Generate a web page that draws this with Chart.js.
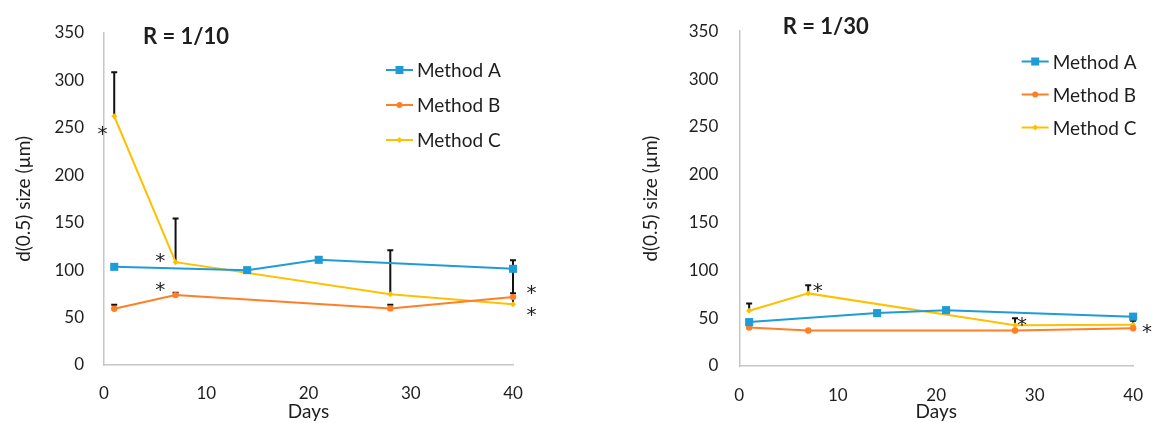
<!DOCTYPE html>
<html lang="en">
<head>
    <meta charset="UTF-8">
    <title>d(0.5) size over time</title>
    <script src="https://cdn.jsdelivr.net/npm/chart.js"></script>
    <style>
        body { margin: 0; background: #fff; }
        .panel { position: absolute; top: 0; width: 581px; height: 423px; }
        #left { left: 0; }
        #right { left: 581px; }
    </style>
</head>
<body>
    <div class="panel" id="left"><canvas id="chart10" width="581" height="423"></canvas></div>
    <div class="panel" id="right"><canvas id="chart30" width="581" height="423"></canvas></div>

    <script>
        // sampling days
        const daysA = [1, 14, 21, 40];
        const daysBC = [1, 7, 28, 40];
        const seriesNames = ['Method A', 'Method B', 'Method C'];

        // R = 1/10
        const methodA10 = [103.4, 99.9, 110.8, 101.3];
        const methodB10 = [59.3, 73.6, 59.6, 71.5];
        const methodC10 = [262, 108.3, 74.6, 64.1];
        const errB10 = [4.1, 2.5, 3.8, 4];
        const errC10 = [46.4, 45.9, 46.3, 46.3];
        const stars10 = [[-0.15, 247.5], [5.5, 113.4], [5.5, 82.5], [41.8, 79.7], [41.8, 56.1]];

        // R = 1/30
        const methodA30 = [45.9, 55.3, 58.4, 51.6];
        const methodB30 = [40.2, 37.1, 37.1, 39.5];
        const methodC30 = [57.7, 75.9, 42.5, 43.2];
        const errC30 = [7.7, 8.4, 7.5, 4];
        const stars30 = [[7.96, 82.1], [28.7, 46.6], [41.4, 39.2]];

        const FONT = "Lato, 'Open Sans', sans-serif";
        const TXT = '#1e1e1e';
        const colors = ['#1f9bd7', '#ff7f27', '#ffc000'];

        const pts = (xs, ys) => xs.map((x, i) => ({ x: x, y: ys[i] }));

        function drawMarker(ctx, style, x, y, r, color) {
            ctx.save();
            ctx.fillStyle = color;
            ctx.beginPath();
            if (style === 'rect') {
                ctx.rect(x - r, y - r, 2 * r, 2 * r);
            } else if (style === 'circle') {
                ctx.arc(x, y, r, 0, Math.PI * 2);
            } else {
                ctx.moveTo(x, y - r); ctx.lineTo(x + r, y); ctx.lineTo(x, y + r); ctx.lineTo(x - r, y);
                ctx.closePath();
            }
            ctx.fill();
            ctx.restore();
        }

        const extras = {
            id: 'extras',
            beforeDatasetsDraw(chart, args, opts) {
                const { ctx, scales: { x, y } } = chart;
                ctx.save();
                ctx.strokeStyle = '#111';
                ctx.lineWidth = 2;
                opts.errors.forEach(e => {
                    chart.data.datasets[e.dataset].data.forEach((p, i) => {
                        const px = x.getPixelForValue(p.x);
                        const y0 = y.getPixelForValue(p.y);
                        const y1 = y.getPixelForValue(p.y + e.values[i]);
                        ctx.beginPath();
                        ctx.moveTo(px, y0); ctx.lineTo(px, y1);
                        ctx.moveTo(px - 3, y1); ctx.lineTo(px + 3, y1);
                        ctx.stroke();
                    });
                });
                ctx.restore();
            },
            afterDraw(chart, args, opts) {
                const { ctx, scales: { x, y } } = chart;
                ctx.save();
                // asterisks
                ctx.fillStyle = TXT;
                ctx.font = "20px 'DejaVu Sans', sans-serif";
                ctx.textAlign = 'center';
                ctx.textBaseline = 'alphabetic';
                const m = ctx.measureText('*');
                const off = (m.actualBoundingBoxAscent - m.actualBoundingBoxDescent) / 2;
                opts.stars.forEach(s => {
                    ctx.fillText('*', x.getPixelForValue(s[0]), y.getPixelForValue(s[1]) + off);
                });
                // panel title
                ctx.font = 'bold 22px ' + FONT;
                ctx.textAlign = 'left';
                ctx.textBaseline = 'middle';
                ctx.fillText(opts.title, opts.titleX, opts.titleY);
                // legend
                const lg = opts.legend;
                ctx.font = '19px ' + FONT;
                chart.data.datasets.forEach((ds, i) => {
                    const ly = lg.y + i * lg.gap;
                    ctx.strokeStyle = ds.borderColor;
                    ctx.lineWidth = 2;
                    ctx.beginPath();
                    ctx.moveTo(lg.x, ly); ctx.lineTo(lg.x + 27, ly);
                    ctx.stroke();
                    drawMarker(ctx, ds.pointStyle, lg.x + 13.5, ly, ds.pointStyle === 'rect' ? 4 : 3, ds.borderColor);
                    ctx.fillStyle = TXT;
                    ctx.fillText(ds.label, lg.x + 31, ly + 1);
                });
                ctx.restore();
            }
        };

        function makeChart(id, a, b, c, cfg) {
            const mk = (label, data, color, style, r) => ({
                label: label, data: data, borderColor: color, backgroundColor: color,
                borderWidth: 2, tension: 0, pointStyle: style, pointRadius: r,
                pointBorderWidth: 0, pointHoverRadius: r, clip: false
            });
            return new Chart(document.getElementById(id), {
                type: 'line',
                data: {
                    datasets: [
                        mk(seriesNames[0], pts(daysA, a), colors[0], 'rect', 5.7),
                        mk(seriesNames[1], pts(daysBC, b), colors[1], 'circle', 3.2),
                        mk(seriesNames[2], pts(daysBC, c), colors[2], 'rectRot', 3)
                    ]
                },
                options: {
                    responsive: false,
                    animation: false,
                    devicePixelRatio: 1,
                    layout: { padding: cfg.padding },
                    plugins: {
                        legend: { display: false },
                        tooltip: { enabled: false },
                        extras: cfg.extras
                    },
                    scales: {
                        x: {
                            type: 'linear', min: 0, max: 40,
                            grid: { display: false, drawTicks: false },
                            border: { display: true, color: '#c6c6c6', width: 1.5 },
                            ticks: { stepSize: 10, padding: cfg.xPad, color: TXT, font: { family: FONT, size: 17 } },
                            title: { display: true, text: 'Days', color: TXT, font: { family: FONT, size: 19 }, padding: { top: 0, bottom: 0 } },
                            afterFit: s => { s.height = cfg.xHeight; }
                        },
                        y: {
                            min: 0, max: 350,
                            grid: { display: false, drawTicks: false },
                            border: { display: true, color: '#c6c6c6', width: 1.5 },
                            ticks: { stepSize: 50, padding: cfg.yPad, color: TXT, font: { family: FONT, size: 17 } },
                            title: { display: true, text: 'd(0.5) size (µm)', color: TXT, font: { family: FONT, size: 19 }, padding: { top: cfg.yTitlePad, bottom: 0 } },
                            afterFit: s => { s.width = cfg.yWidth; }
                        }
                    }
                },
                plugins: [extras]
            });
        }

        makeChart('chart10', methodA10, methodB10, methodC10, {
            padding: { left: 0, right: 68, top: 32.7, bottom: 0 },
            xHeight: 58, yWidth: 104, xPad: 18, yPad: 20, yTitlePad: 12.6,
            extras: {
                errors: [{ dataset: 1, values: errB10 }, { dataset: 2, values: errC10 }],
                stars: stars10,
                title: 'R = 1/10', titleX: 143, titleY: 37,
                legend: { x: 386, y: 70, gap: 35 }
            }
        });

        makeChart('chart30', methodA30, methodB30, methodC30, {
            padding: { left: 0, right: 17, top: 20.5, bottom: 0 },
            xHeight: 57, yWidth: 158.3, xPad: 19, yPad: 21, yTitlePad: 58.6,
            extras: {
                errors: [{ dataset: 2, values: errC30 }],
                stars: stars30,
                title: 'R = 1/30', titleX: 201.7, titleY: 27,
                legend: { x: 440.7, y: 61.5, gap: 33 }
            }
        });
    </script>
</body>
</html>
